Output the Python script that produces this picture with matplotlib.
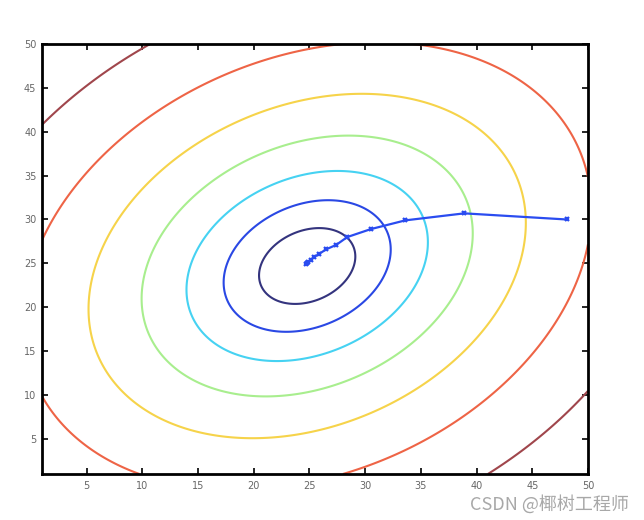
import matplotlib
matplotlib.use("Agg")
import matplotlib.pyplot as plt
import numpy as np

# quadratic cost surface
centre = (24.8, 24.7)
cross_term = -0.5
levels = [17.5, 52.7, 110, 207, 361, 610, 1017]
level_colors = ['#34347e', '#2a48e4', '#46d2f2', '#a8ee8e', '#f6d34a', '#ee6446', '#a0464c']

# gradient descent path
path_x = [48.1, 38.9, 33.6, 30.5, 28.4, 27.4, 26.5, 25.9, 25.4, 25.1, 24.9, 24.8, 24.7]
path_y = [30.0, 30.7, 29.9, 28.9, 28.0, 27.1, 26.6, 26.1, 25.7, 25.4, 25.1, 25.0, 24.9]

ticks = [5, 10, 15, 20, 25, 30, 35, 40, 45, 50]

gx = np.linspace(1, 50, 400)
gy = np.linspace(1, 50, 400)
X, Y = np.meshgrid(gx, gy)
dx = X - centre[0]
dy = Y - centre[1]
Z = dx**2 + cross_term*dx*dy + dy**2

fig = plt.figure(figsize=(6.44, 5.2), dpi=100)
ax = fig.add_axes([0.0652, 0.0885, 0.8478, 0.8269])
ax.contour(X, Y, Z, levels=levels, colors=level_colors, linewidths=1.5)
ax.plot(path_x, path_y, color='#2a4cf0', lw=1.6, marker='x', ms=3.5, mew=1.6)

ax.set_xlim(1, 50)
ax.set_ylim(1, 50)
ax.set_xticks(ticks)
ax.set_yticks(ticks)
ax.tick_params(direction='in', length=4, width=1.2, top=True, right=True,
               labelsize=7, labelcolor='#666666', pad=5)
ax.tick_params(axis='y', pad=4)
for s in ax.spines.values():
    s.set_linewidth(2)

fig.text(0.977, 0.031, 'CSDN @椰树工程师', ha='right', va='center', fontsize=13,
         color='#999999', alpha=0.85, family=['Noto Sans CJK SC', 'DejaVu Sans'])

fig.savefig('out.png', dpi=100)
